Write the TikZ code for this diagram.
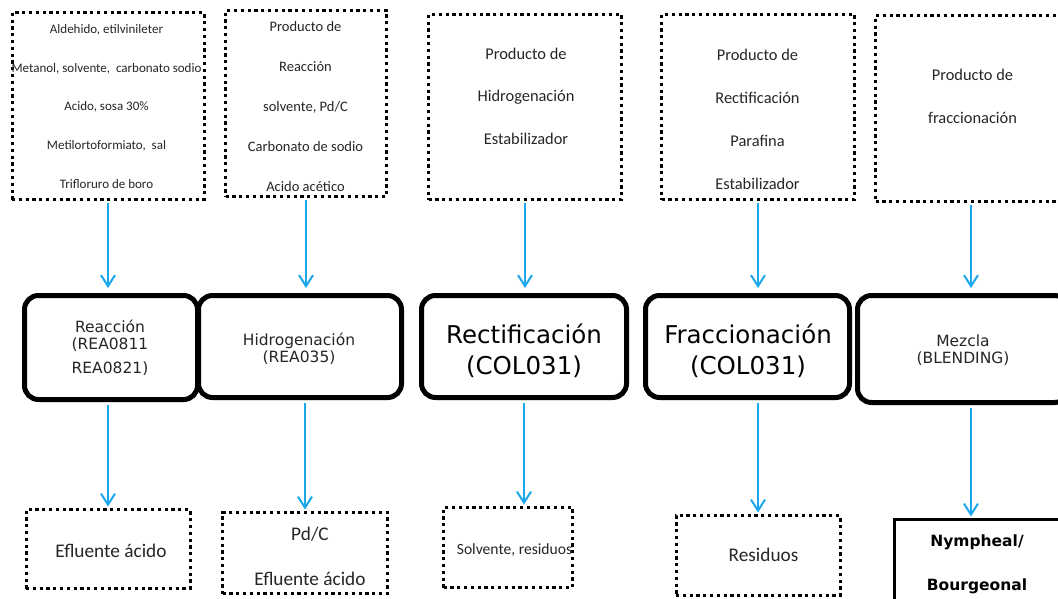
\documentclass[tikz,border=0pt]{standalone}
\usepackage{fontspec}
\setmainfont{Carlito}
\newfontfamily\vfont{DejaVu Sans}
\usetikzlibrary{arrows.meta,shadows,calc}
\definecolor{arrblue}{RGB}{28,167,236}
\definecolor{txtgray}{RGB}{38,38,38}
\begin{document}
\begin{tikzpicture}[x=1pt,y=1pt,
  dotbox/.style={draw=black, line width=3pt, dash pattern=on 3.2pt off 3.6pt, inner sep=0pt},
  procbox/.style={draw=black, line width=5pt, rounded corners=14pt, fill=white, inner sep=0pt,
     drop shadow={shadow xshift=1.5pt, shadow yshift=-2.5pt, opacity=0.3}},
  prodbox/.style={draw=black, line width=3pt, inner sep=0pt},
  lbl/.style={inner sep=0pt, align=center, text=txtgray},
  flow/.style={draw=arrblue, line width=2pt, -{Straight Barb[length=11pt,width=14pt]}},
]
\useasboundingbox (0,0) rectangle (1058,-598);
\clip (0,0) rectangle (1058,-598);
\fill[white] (0,0) rectangle (1058,-598);

% top input boxes
\node[dotbox, minimum width=192pt, minimum height=187pt] (t1) at (108,-106) {};
\node[dotbox, minimum width=161pt, minimum height=186pt] (t2) at (306,-103.5) {};
\node[dotbox, minimum width=193pt, minimum height=185pt] (t3) at (525,-107) {};
\node[dotbox, minimum width=193pt, minimum height=185pt] (t4) at (758,-107) {};
\node[dotbox, minimum width=191pt, minimum height=186pt] (t5) at (971,-108.5) {};

\node[lbl, font=\fontsize{13}{38.75}\selectfont] (t1txt) at (106.5,-106.5)
  {Aldehido, etilvinileter\\Metanol, solvente,~ carbonato sodio\\Acido, sosa 30\%\\Metilortoformiato,~ sal\\Trifloruro de boro};
\node[lbl, font=\fontsize{14.5}{40}\selectfont] (t2txt) at (305.5,-106.5)
  {Producto de\\Reacción\\solvente, Pd/C\\Carbonato de sodio\\Acido acético};
\node[lbl, font=\fontsize{16.4}{42.5}\selectfont] (t3txt) at (526,-96)
  {Producto de\\Hidrogenación\\Estabilizador};
\node[lbl, font=\fontsize{16.4}{43}\selectfont] (t4txt) at (757.5,-119)
  {Producto de\\Rectificación\\Parafina\\Estabilizador};
\node[lbl, font=\fontsize{16.4}{43}\selectfont] (t5txt) at (972.5,-96)
  {Producto de\\fraccionación};

% process boxes
\node[procbox, minimum width=173pt, minimum height=104pt] (m1) at (111,-347.5) {};
\node[procbox, minimum width=203pt, minimum height=102pt] (m2) at (300,-346.5) {};
\node[procbox, minimum width=205pt, minimum height=102pt] (m3) at (524,-346.5) {};
\node[procbox, minimum width=204pt, minimum height=102pt] (m4) at (747.5,-346.5) {};
\node[procbox, minimum width=211pt, minimum height=107pt] (m5) at (963,-349) {};

\node[lbl, font=\vfont\fontsize{15.5}{17}\selectfont] (m1txt) at (110,-348)
  {Reacción\\(REA0811\\[7pt]REA0821)};
\node[lbl, font=\vfont\fontsize{15.5}{17}\selectfont] (m2txt) at (299,-349)
  {Hidrogenación\\(REA035)};
\node[lbl, font=\vfont\fontsize{24.5}{31}\selectfont, text=black] (m3txt) at (524,-350.5)
  {Rectificación\\(COL031)};
\node[lbl, font=\vfont\fontsize{24.5}{31}\selectfont, text=black] (m4txt) at (748,-350.5)
  {Fraccionación\\(COL031)};
\node[lbl, font=\vfont\fontsize{15.5}{17}\selectfont] (m5txt) at (963,-350)
  {Mezcla\\(BLENDING)};

% output boxes
\node[dotbox, minimum width=164pt, minimum height=79pt] (b1) at (108,-549) {};
\node[dotbox, minimum width=165pt, minimum height=81pt] (b2) at (305,-553) {};
\node[dotbox, minimum width=129pt, minimum height=80pt] (b3) at (508,-547.5) {};
\node[dotbox, minimum width=164pt, minimum height=80pt] (b4) at (758,-555.5) {};
\node[prodbox, minimum width=166pt, minimum height=85.5pt] (b5) at (977.5,-562.25) {};

\node[lbl, font=\fontsize{19.3}{23}\selectfont] (b1txt) at (111,-551) {Efluente ácido};
\node[lbl, font=\fontsize{19.3}{45}\selectfont] (b2txt) at (310,-556.5) {Pd/C\\Efluente ácido};
\node[lbl, font=\fontsize{15.6}{19}\selectfont] (b3txt) at (514.5,-550.5) {Solvente, residuos};
\node[lbl, font=\fontsize{19.3}{23}\selectfont] (b4txt) at (763.5,-555) {Residuos};
\node[lbl, font=\vfont\bfseries\fontsize{15.5}{44}\selectfont, text=black] (b5txt) at (977,-564.5) {Nympheal/\\Bourgeonal};

% connectors: inputs to processes
\foreach \t/\m in {t1/m1,t2/m2,t3/m3,t4/m4,t5/m5}
  \draw[flow, shorten <=1.5pt, shorten >=5pt] (\t.south) -- (\t.south |- \m.north);

% connectors: processes to outputs
\draw[flow, shorten <=2.5pt, shorten >=1.5pt] (b1.north |- m1.south) -- (b1.north);
\draw[flow, shorten <=2.5pt, shorten >=1.5pt] (b2.north |- m2.south) -- (b2.north);
\draw[flow, shorten <=2.5pt, shorten >=1.5pt] (m3.south) -- (m3.south |- b3.north);
\draw[flow, shorten <=2.5pt, shorten >=1.5pt] (b4.north |- m4.south) -- (b4.north);
\draw[flow, shorten <=2.5pt, shorten >=1.5pt] (t5.south |- m5.south) -- (t5.south |- b5.north);
\end{tikzpicture}
\end{document}
